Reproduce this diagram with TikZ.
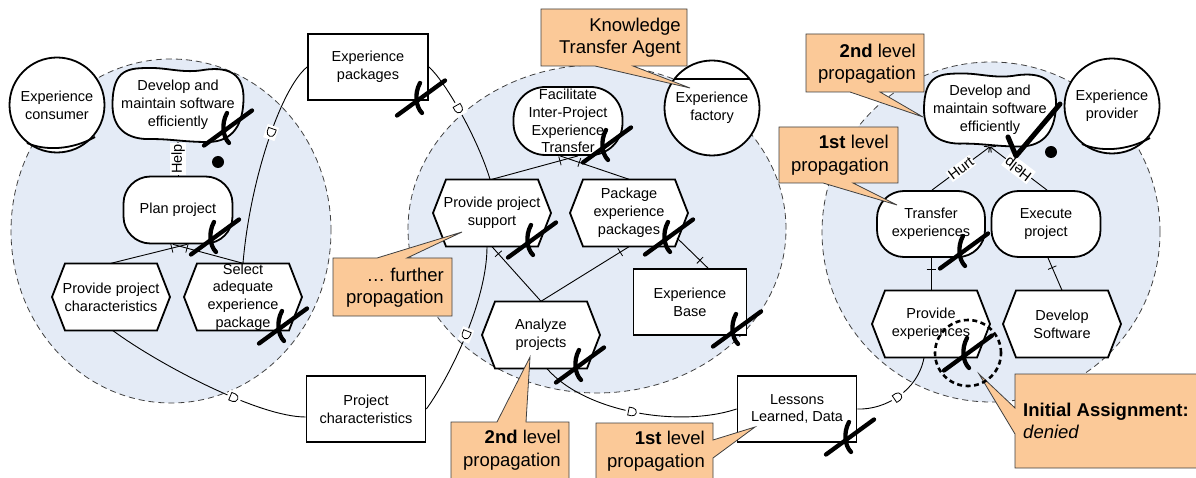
\documentclass[tikz,border=0pt]{standalone}
\usepackage{fontspec}
\setmainfont{Liberation Sans}
\usetikzlibrary{arrows.meta,calc,decorations.markings}
\definecolor{bubble}{HTML}{E4EBF6}
\definecolor{callfill}{HTML}{FBC998}
\definecolor{callline}{HTML}{404040}
\newcommand\ndfont{\fontsize{14.5}{17.8}\selectfont}
\newcommand\clfont{\fontsize{18.5}{22.5}\selectfont}
\newcommand\dshape{\fill[white] (-7pt,-6pt) rectangle (7pt,6pt);
  \draw[line width=0.8pt,fill=white] (-4pt,-4pt) -- (0pt,-4pt) arc[start angle=-90,end angle=90,radius=4pt] -- (-4pt,4pt) -- cycle;}
\newcommand\dshaper{\fill[white] (-7pt,-6pt) rectangle (7pt,6pt);
  \draw[line width=0.8pt,fill=white] (4pt,-4pt) -- (0pt,-4pt) arc[start angle=-90,end angle=-270,radius=4pt] -- (4pt,4pt) -- cycle;}
\newcommand\hexnode[4]{%
  \draw[line width=1.8pt,fill=white,line join=miter] (#2-59,#3) -- (#2-46,#3-33.5) -- (#2+46,#3-33.5) -- (#2+59,#3) -- (#2+46,#3+33.5) -- (#2-46,#3+33.5) -- cycle;
  \node[nd,minimum width=118pt,minimum height=67pt] (#1) at (#2,#3) {#4};}
\newcommand\sgnode[6]{%
  \draw[line width=1.8pt,fill=white,shift={(#2,#3)}]
    (-#4,0) .. controls (-#4,-#5) and (-0.75*#4,-#5) .. (-0.4*#4,-#5)
    .. controls (-0.15*#4,-#5) and (0.1*#4,-0.85*#5) .. (0.4*#4,-0.95*#5)
    .. controls (0.8*#4,-1.05*#5) and (#4,-0.8*#5) .. (#4,-0.2*#5)
    .. controls (#4,0.5*#5) and (0.85*#4,#5) .. (0.45*#4,#5)
    .. controls (0.1*#4,#5) and (-0.1*#4,0.92*#5) .. (-0.4*#4,0.92*#5)
    .. controls (-0.8*#4,0.95*#5) and (-#4,0.6*#5) .. (-#4,0) -- cycle;
  \node[nd,minimum width=2*#4pt,minimum height=2*#5pt] (#1) at (#2,#3) {#6};}
\tikzset{
  nd/.style={font=\ndfont,align=center,inner sep=0pt},
  goaln/.style={nd,draw,line width=1.8pt,fill=white,rounded corners=27pt},
  resn/.style={nd,draw,line width=1.8pt,fill=white},
  actn/.style={nd,circle,draw,line width=1.8pt,fill=white,minimum size=95pt},
  link/.style={line width=0.9pt,black},
  lbl/.style={font=\ndfont,fill=white,inner sep=1pt},
  contrib/.style={link,-{Straight Barb[length=4pt,width=8pt]}},
  dectick/.style={postaction={decorate,decoration={markings,mark=at position #1 with {\draw[line width=0.8pt] (0pt,-4.5pt) -- (0pt,4.5pt);}}}},
  dep/.style={postaction={decorate,decoration={markings,mark=at position #1 with {\dshape}}}},
  depr/.style={postaction={decorate,decoration={markings,mark=at position #1 with {\dshaper}}}},
  bubbleline/.style={fill=bubble,draw=black!75,line width=0.8pt,dash pattern=on 6pt off 4pt},
  callout/.style={fill=callfill,draw=callline,line width=0.8pt,line join=miter},
  calltext/.style={font=\clfont,inner sep=0pt},
  deny/.pic={\draw[line width=4.3pt,line cap=round] (-24,17.5) -- (24,-17.5);
    \draw[line width=4.3pt,line cap=round] (-1,-15) .. controls (-7,-4) and (-5,9) .. (1,15);}
}
\begin{document}
\begin{tikzpicture}[x=1pt,y=-1pt]
\useasboundingbox (0,0) rectangle (1196,478);
\fill[white] (0,0) rectangle (1196,478);
% boundaries
\draw[bubbleline] (171,231) ellipse [x radius=160pt, y radius=172pt];
\draw[bubbleline] (597,229) ellipse [x radius=189pt, y radius=164pt];
\draw[bubbleline] (991,232) ellipse [x radius=169pt, y radius=170pt];
% actors
\node[actn] (consumer) at (57,105) {Experience\\consumer};
\draw[line width=1.8pt,shift={(consumer.center)}] (-30,38) .. controls (-12,46) and (15,45) .. (38,32);
\node[actn] (provider) at (1112,106) {Experience\\provider};
\draw[line width=1.8pt,shift={(provider.center)}] (-30,38) .. controls (-12,46) and (15,45) .. (38,32);
\node[actn] (factory) at (712,108) {Experience\\factory};
\draw[line width=1.8pt] ($(factory.center)+(-37,-29)$) -- ($(factory.center)+(37,-29)$);
% left
\sgnode{sg1}{178}{105}{65.5}{37}{Develop and\\maintain software\\efficiently}
\node[goaln,minimum width=109pt,minimum height=67pt] (plan) at (178,210) {Plan project};
\hexnode{ppc}{111}{297}{Provide project\\characteristics}
\hexnode{sel}{243}{297}{Select\\adequate\\experience\\package}
% boxes
\node[resn,minimum width=120pt,minimum height=66pt] (exppkg) at (368,67) {Experience\\packages};
\node[resn,minimum width=119pt,minimum height=66pt] (projchar) at (366,409) {Project\\characteristics};
\node[resn,minimum width=113pt,minimum height=66pt] (eb) at (690,302) {Experience\\Base};
\node[resn,minimum width=119pt,minimum height=66pt] (ll) at (797,409) {Lessons\\Learned, Data};
% middle
\node[goaln,rounded corners=32pt,minimum width=109pt,minimum height=68pt] (fac) at (568,121) {Facilitate\\Inter-Project\\Experience\\Transfer};
\hexnode{pps}{492}{213}{Provide project\\support}
\hexnode{pep}{629}{213}{Package\\experience\\packages}
\hexnode{ap}{541}{335}{Analyze\\projects}
% right
\sgnode{sg2}{990}{110}{66}{36.5}{Develop and\\maintain software\\efficiently}
\node[goaln,minimum width=108pt,minimum height=66pt] (te) at (931,224) {Transfer\\experiences};
\node[goaln,minimum width=109pt,minimum height=66pt] (ep) at (1046,224) {Execute\\project};
\hexnode{pe}{931}{324}{Provide\\experiences}
\hexnode{ds}{1062}{324}{Develop\\Software}
% contribution links
\draw[contrib] (plan.north) -- (sg1.south) node[lbl,midway,sloped] {Help};
\draw[contrib] ([xshift=1pt]te.north) -- (sg2.south) node[lbl,midway,sloped] {Hurt};
\draw[contrib] ([xshift=1pt]ep.north) -- (sg2.south) node[lbl,midway,sloped,allow upside down] {Help};
% decomposition links
\draw[link,dectick=0.8] (ppc.north) -- ([xshift=9pt]plan.south);
\draw[link,dectick=0.2] ([xshift=-5pt]plan.south) -- (sel.north);
\draw[link,dectick=0.79] (pps.north) -- ([xshift=10pt]fac.south);
\draw[link,dectick=0.28] ([xshift=-8pt]fac.south) -- (pep.north);
\draw[link,dectick=0.13] (pps.south) -- (ap.north);
\draw[link,dectick=0.1] (pep.south) -- (ap.north);
\draw[link,dectick=0.74] ($(pep.center)+(48,25)$) -- ([xshift=18pt]eb.north);
\draw[link,dectick=0.35] (te.south) -- (pe.north);
\draw[link,dectick=0.3] ([xshift=2pt]ep.south) -- (ds.north);
% dependency links
\draw[link,dep=0.36] (exppkg.west) .. controls +(-26,21) and +(7,-83.5) .. (sel.north);
\draw[link,dep=0.4] (exppkg.east) .. controls +(17,15) and +(-12,-40) .. ([xshift=-2pt]pps.north);
\draw[link,dep=0.65] ([xshift=2pt]ppc.south) .. controls +(47,34.5) and +(-46.5,0) .. ([yshift=-8pt]projchar.west);
\draw[link,depr=0.48] (projchar.east) .. controls +(24.5,-34) and +(0,53.5) .. ([xshift=-5pt]pps.south);
\draw[link,dep=0.48] ([xshift=6pt]ap.south) .. controls +(38,43.5) and +(-57.5,19) .. (ll.west);
\draw[link,dep=0.47] (ll.east) .. controls +(28.5,1) and +(-6,32.5) .. ([xshift=-7pt]pe.south);
% callouts
\filldraw[callout] (541,9) -- (687,9) -- (687,66) -- (633,66) -- (690,88) -- (595,66) -- (541,66) -- cycle;
\node[calltext,anchor=east,align=right] (kta) at (681,37.5) {Knowledge\\Transfer Agent};
\filldraw[callout] (333,258) -- (377,258) -- (462,232) -- (407,258) -- (452,258) -- (452,316) -- (333,316) -- cycle;
\node[calltext,anchor=east,align=right] (fur) at (444,287.5) {… further\\propagation};
\filldraw[callout] (451,422) -- (497,422) -- (530,357) -- (526,422) -- (569,422) -- (569,482) -- (451,482) -- cycle;
\node[calltext,anchor=east,align=right] (sec1) at (561,450) {\textbf{2nd} level\\propagation};
\filldraw[callout] (596,423) -- (713,423) -- (713,440) -- (755,427) -- (713,458) -- (713,482) -- (596,482) -- cycle;
\node[calltext,anchor=east,align=right] (fst1) at (705,451) {\textbf{1st} level\\propagation};
\filldraw[callout] (806,34) -- (924,34) -- (924,92) -- (880,92) -- (923,117) -- (850,92) -- (806,92) -- cycle;
\node[calltext,anchor=east,align=right] (sec2) at (916,63.5) {\textbf{2nd} level\\propagation};
\filldraw[callout] (779,127) -- (898,127) -- (898,183) -- (853,183) -- (897,205) -- (823,183) -- (779,183) -- cycle;
\node[calltext,anchor=east,align=right] (fst2) at (889,155) {\textbf{1st} level\\propagation};
\filldraw[callout] (1015,374) -- (1210,374) -- (1210,468) -- (1015,468) -- (1015,434) -- (979,374) -- (1015,408) -- cycle;
\node[calltext,anchor=west,align=left] (init) at (1023,421) {\textbf{Initial Assignment:}\\\textit{denied}};
% evaluation marks
\foreach \p in {(228,128),(215,237),(283,326),(421,98),(607,145),(532,240),(669,237),(737,329),(580,365),(850,437),(964,251),(968,353)}
  \pic at \p {deny};
\draw[line width=5pt,line cap=round,line join=round] (1008,137) -- (1016,156) -- (1060,104);
\fill (218,162) circle[radius=6pt];
\fill (1051,152) circle[radius=6pt];
\draw[line width=2.6pt,dash pattern=on 5pt off 3.5pt] (968,353) circle[radius=33pt];
\end{tikzpicture}
\end{document}
